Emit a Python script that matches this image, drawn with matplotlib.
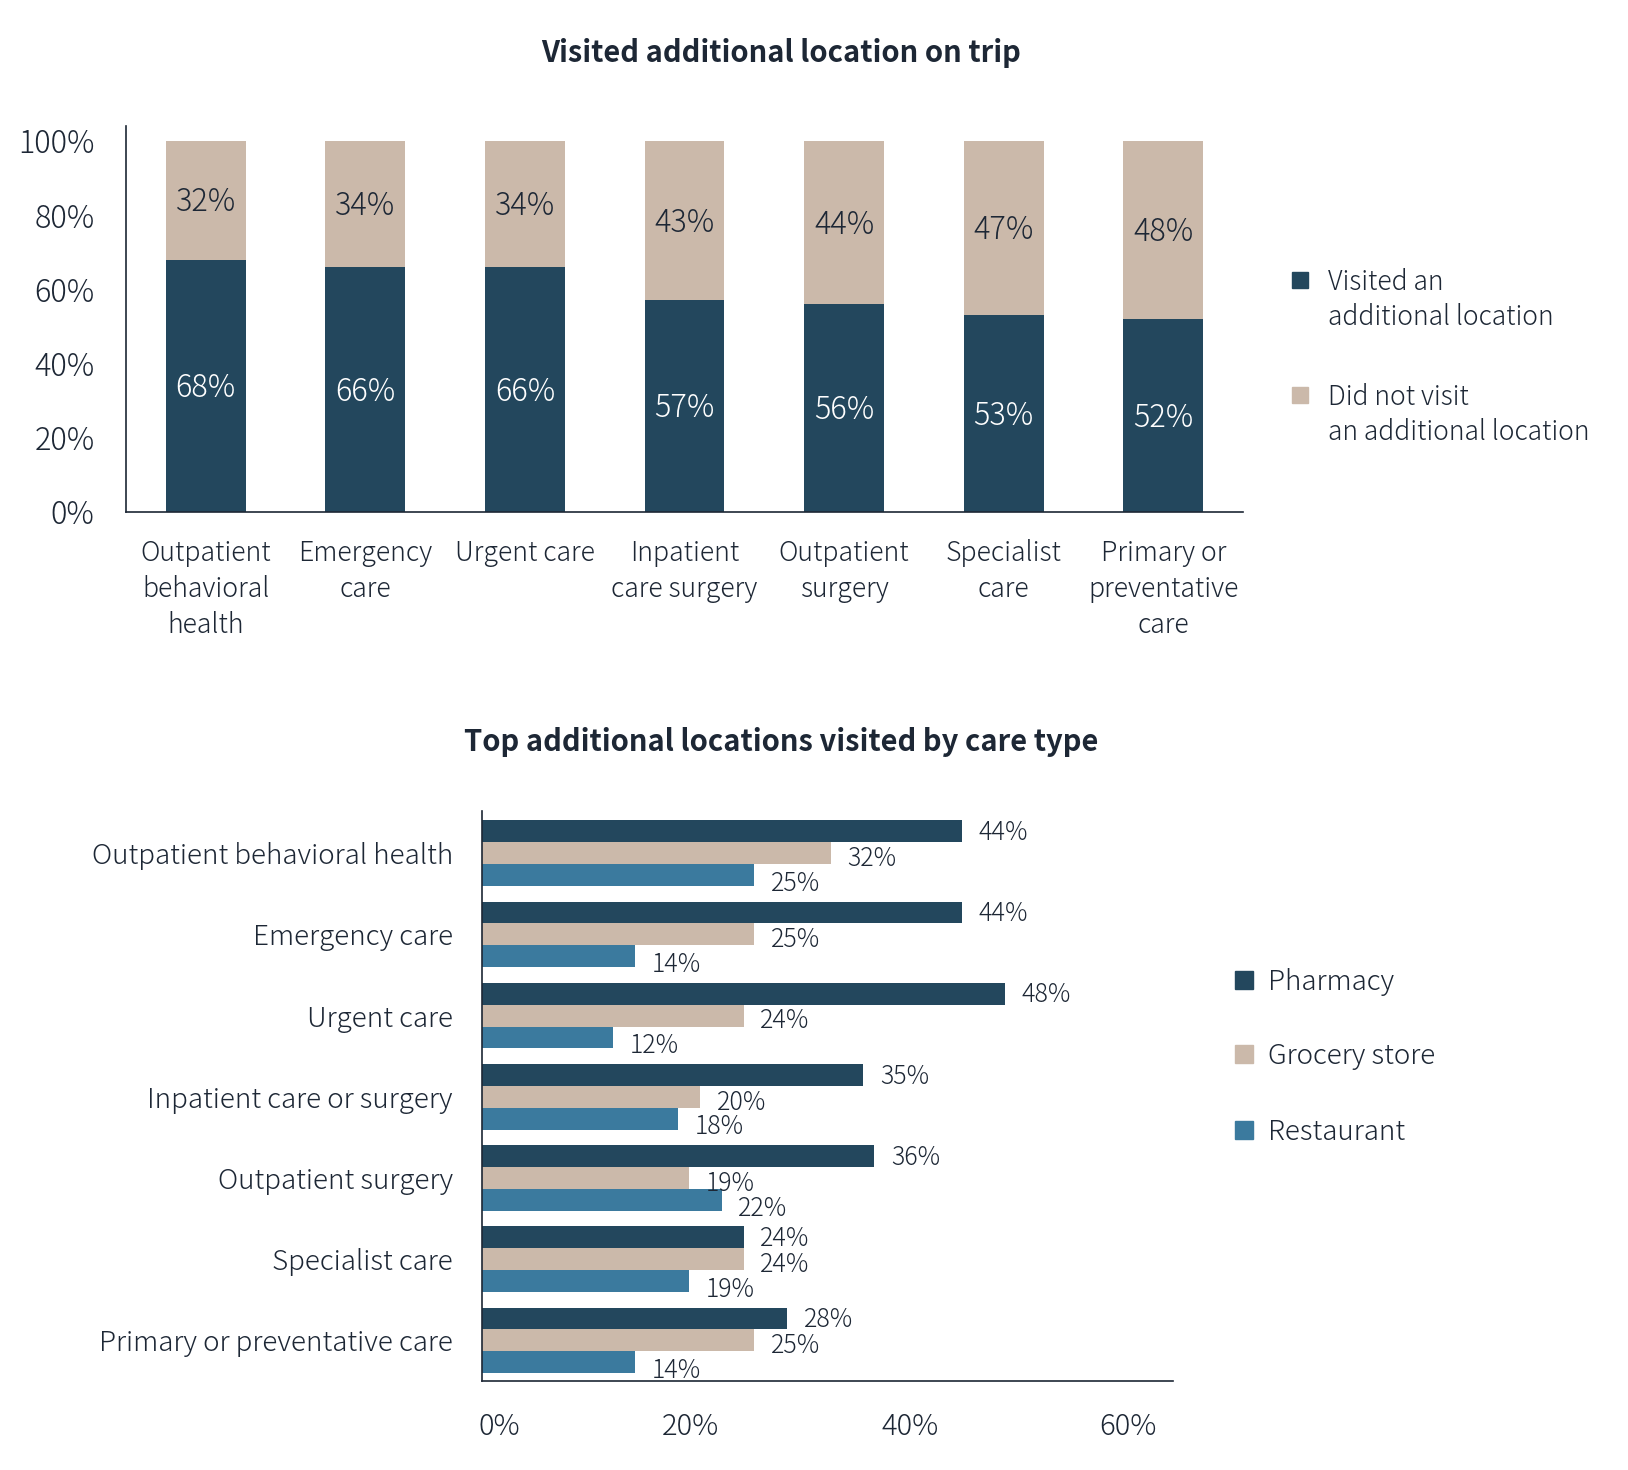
import matplotlib.pyplot as plt
from matplotlib.patches import Rectangle
from matplotlib.transforms import ScaledTranslation

plt.rcParams['font.family'] = ['Noto Sans CJK JP', 'DejaVu Sans']

# top chart data
care_types = ['Outpatient\nbehavioral\nhealth', 'Emergency\ncare', 'Urgent care',
              'Inpatient\ncare surgery', 'Outpatient\nsurgery', 'Specialist\ncare',
              'Primary or\npreventative\ncare']
visited = [68, 66, 66, 57, 56, 53, 52]
not_visited = [32, 34, 34, 43, 44, 47, 48]

# bottom chart data
bar_types = ['Outpatient behavioral health', 'Emergency care', 'Urgent care',
             'Inpatient care or surgery', 'Outpatient surgery', 'Specialist care',
             'Primary or preventative care']
pharmacy = [44, 44, 48, 35, 36, 24, 28]
grocery = [32, 25, 24, 20, 19, 24, 25]
restaurant = [25, 14, 12, 18, 22, 19, 14]

navy = '#23475d'
tan = '#cbb9aa'
blue = '#3b7a9e'
ink = '#1d2735'

W, H = 1628, 1470
fig = plt.figure(figsize=(W / 100, H / 100), dpi=100)


def fx(px):
    return px / W


def fy(py):
    return 1 - py / H


# ---- top: stacked bars ----
ax1 = fig.add_axes([fx(126), fy(512), fx(1243) - fx(126), fy(126) - fy(512)])
x = range(len(care_types))
ax1.bar(x, visited, width=0.5, color=navy)
ax1.bar(x, not_visited, width=0.5, bottom=visited, color=tan)
for i in x:
    ax1.annotate(f'{visited[i]}%', (i, visited[i] / 2), xytext=(0, -1.5),
                 textcoords='offset points', ha='center', va='center',
                 color='white', fontsize=22, fontweight='light')
    ax1.annotate(f'{not_visited[i]}%', (i, visited[i] + not_visited[i] / 2),
                 xytext=(0, -1.5), textcoords='offset points', ha='center',
                 va='center', color=ink, fontsize=22, fontweight='light')
ax1.set_xlim(-0.5, 6.5)
ax1.set_ylim(0, 104)
ax1.set_yticks([0, 20, 40, 60, 80, 100])
ax1.set_yticklabels([f'{v}%' for v in [0, 20, 40, 60, 80, 100]])
ax1.set_xticks(list(x))
ax1.set_xticklabels(care_types, linespacing=1.36)
ax1.tick_params(axis='y', length=0, pad=22.5, labelsize=22, labelcolor=ink)
ax1.tick_params(axis='x', length=0, pad=19.5, labelsize=19.2, labelcolor=ink)
for lab in ax1.get_xticklabels() + ax1.get_yticklabels():
    lab.set_fontweight('light')
for s in ['top', 'right']:
    ax1.spines[s].set_visible(False)
for s in ['left', 'bottom']:
    ax1.spines[s].set_color(ink)
    ax1.spines[s].set_linewidth(1.2)

fig.text(fx(781), fy(53), 'Visited additional location on trip', ha='center',
         va='center', fontsize=21, fontweight='bold', color=ink)

# top legend
for cy, col, lab in [(280, navy, 'Visited an\nadditional location'),
                     (395, tan, 'Did not visit\nan additional location')]:
    fig.add_artist(Rectangle((fx(1292), fy(cy + 8)), fx(16), 16 / H,
                             transform=fig.transFigure, color=col))
    fig.text(fx(1328), fy(cy - 12), lab, ha='left', va='top', fontsize=19,
             fontweight='light', color=ink, linespacing=1.34)

# ---- bottom: grouped horizontal bars ----
ax2 = fig.add_axes([fx(482), fy(1381), fx(1173) - fx(482), fy(811) - fy(1381)])
h = 0.27
ys = range(len(bar_types))
series = [(pharmacy, navy, -h, -1), (grocery, tan, 0, -4), (restaurant, blue, h, -6)]
for vals, col, off, dy in series:
    pos = [y + off for y in ys]
    ax2.barh(pos, vals, height=h, color=col)
    for p, v in zip(pos, vals):
        ax2.annotate(f'{v}%', (v, p), xytext=(12, dy), textcoords='offset points',
                     ha='left', va='center', fontsize=18, fontweight='light', color=ink)
ax2.set_ylim(6.5, -0.52)
ax2.set_xlim(0, 63.4)
ax2.set_yticks(list(ys))
ax2.set_yticklabels(bar_types)
ax2.set_xticks([0, 20, 40, 60])
ax2.set_xticklabels(['0%', '20%', '40%', '60%'])
ax2.tick_params(axis='y', length=0, pad=21, labelsize=20, labelcolor=ink)
ax2.tick_params(axis='x', length=0, pad=22, labelsize=21, labelcolor=ink)
for lab in ax2.get_xticklabels() + ax2.get_yticklabels():
    lab.set_fontweight('light')
# the x tick labels sit a little off their ticks in the original
for lab, dx in zip(ax2.get_xticklabels(), [17, -10, -8, -8]):
    lab.set_transform(lab.get_transform() + ScaledTranslation(dx / 100, 0, fig.dpi_scale_trans))
for s in ['top', 'right']:
    ax2.spines[s].set_visible(False)
for s in ['left', 'bottom']:
    ax2.spines[s].set_color(ink)
    ax2.spines[s].set_linewidth(1.2)

fig.text(fx(781), fy(742), 'Top additional locations visited by care type', ha='center',
         va='center', fontsize=21, fontweight='bold', color=ink)

# bottom legend
for cy, col, lab in [(980, navy, 'Pharmacy'), (1054, tan, 'Grocery store'),
                     (1130, blue, 'Restaurant')]:
    fig.add_artist(Rectangle((fx(1235), fy(cy + 9)), fx(18), 18 / H,
                             transform=fig.transFigure, color=col))
    fig.text(fx(1268), fy(cy + 2), lab, ha='left', va='center', fontsize=20,
             fontweight='light', color=ink)

fig.savefig('out.png', dpi=100, facecolor='white')
